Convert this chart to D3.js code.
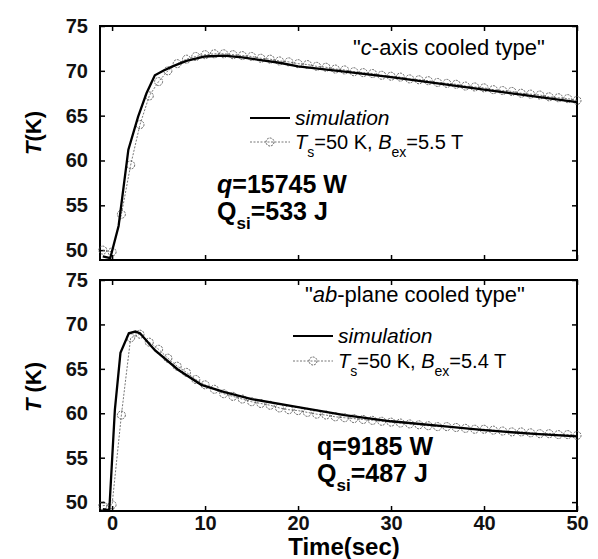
<!DOCTYPE html>
<html>
<head>
<meta charset="utf-8">
<title>T(K) vs Time</title>
<script src="https://cdn.jsdelivr.net/npm/d3@7"></script>
<style>
  body { margin: 0; background: #fff; }
  svg { font-family: "Liberation Sans", Arial, sans-serif; }
  .axis text { font-size: 20px; font-weight: bold; fill: #111; }
  .axis path { stroke: none; }
  .axis line { stroke: #000; stroke-width: 1.5px; }
  .frame { fill: none; stroke: #000; stroke-width: 2px; }
  .sim { fill: none; stroke: #000; stroke-width: 2.3px; }
  .exp { fill: none; stroke: #666; stroke-width: 0.9px; }
  .dot { fill: none; stroke: #555; stroke-width: 0.9px; stroke-dasharray: 2,1; }
</style>
</head>
<body>
<div id="chart"></div>
<script>
// tick labels
const xTicks = [0, 10, 20, 30, 40, 50];
const yTicks = [50, 55, 60, 65, 70, 75];

// measured points (circles), one per second
const expTime = [-1, 0, 1, 2, 3, 4, 5, 6, 7, 8, 9, 10, 11, 12, 13, 14, 15, 16, 17, 18, 19, 20,
  21, 22, 23, 24, 25, 26, 27, 28, 29, 30, 31, 32, 33, 34, 35, 36, 37, 38, 39, 40,
  41, 42, 43, 44, 45, 46, 47, 48, 49, 50];
const expTop = [50.0, 49.8, 54.0, 59.5, 64.0, 67.2, 68.8, 70.0, 70.8, 71.3, 71.6, 71.8, 71.9, 71.9,
  71.8, 71.7, 71.6, 71.4, 71.3, 71.1, 71.0, 70.8, 70.7, 70.5, 70.4, 70.2, 70.1, 69.9, 69.8, 69.7,
  69.5, 69.4, 69.3, 69.1, 69.0, 68.9, 68.7, 68.6, 68.5, 68.3, 68.2, 68.1, 67.9, 67.8, 67.7, 67.5,
  67.4, 67.3, 67.1, 67.0, 66.9, 66.7];
const expBottom = [49.6, 49.7, 59.8, 68.5, 68.9, 68.0, 67.2, 66.2, 65.3, 64.6, 63.8, 63.2, 62.7,
  62.2, 61.9, 61.6, 61.3, 61.1, 60.9, 60.6, 60.4, 60.3, 60.1, 59.9, 59.8, 59.6, 59.5, 59.4, 59.3,
  59.2, 59.1, 59.0, 58.9, 58.8, 58.7, 58.6, 58.5, 58.5, 58.4, 58.3, 58.2, 58.2, 58.1, 58.0, 57.9,
  57.9, 57.8, 57.7, 57.7, 57.6, 57.6, 57.5];

// simulation curves
const simTopTime = [-1.0, -0.2, 0.7, 1.75, 2.8, 3.7, 4.6, 5.5, 6.5, 8, 10, 12, 14, 16, 18, 20, 25, 30, 35, 40, 45, 50];
const simTop = [49.3, 49.1, 52.7, 61.2, 64.9, 67.5, 69.5, 70.0, 70.5, 71.1, 71.6, 71.7, 71.5, 71.2, 70.9, 70.5, 69.9, 69.3, 68.6, 67.9, 67.2, 66.5];
const simBottomTime = [-1.0, -0.3, 0.3, 0.9, 1.8, 2.5, 3, 4.6, 7.1, 9.6, 12, 15, 20, 25, 30, 35, 40, 45, 50];
const simBottom = [49.2, 49.1, 60.4, 66.8, 69.0, 69.2, 69.0, 67.1, 64.9, 63.2, 62.4, 61.6, 60.7, 59.8, 59.1, 58.6, 58.1, 57.7, 57.4];

const width = 598, height = 559;
const svg = d3.select("#chart").append("svg")
  .attr("width", width).attr("height", height);

const x = d3.scaleLinear().domain([-1.3, 50]).range([100, 577]);

const panels = [
  { y: d3.scaleLinear().domain([48.9, 75]).range([260, 26]), exp: expTop,
    simT: simTopTime, simV: simTop, labels: false },
  { y: d3.scaleLinear().domain([49.0, 75]).range([511, 280]), exp: expBottom,
    simT: simBottomTime, simV: simBottom, labels: true }
];

panels.forEach(p => {
  const g = svg.append("g");
  const [y0, y1] = p.y.range();

  // axes with inward ticks on all four sides
  g.append("g").attr("class", "axis")
    .attr("transform", `translate(0,${y0})`)
    .call(d3.axisBottom(x).tickValues(xTicks).tickSize(-5).tickPadding(5)
      .tickFormat(p.labels ? d3.format("d") : ""));
  g.append("g").attr("class", "axis")
    .attr("transform", `translate(0,${y1})`)
    .call(d3.axisTop(x).tickValues(xTicks).tickSize(-5).tickFormat(""));
  g.append("g").attr("class", "axis")
    .attr("transform", `translate(100,0)`)
    .call(d3.axisLeft(p.y).tickValues(yTicks).tickSize(-5).tickPadding(12));
  g.append("g").attr("class", "axis")
    .attr("transform", `translate(577,0)`)
    .call(d3.axisRight(p.y).tickValues(yTicks).tickSize(-5).tickFormat(""));

  g.append("rect").attr("class", "frame")
    .attr("x", 100).attr("y", y1).attr("width", 477).attr("height", y0 - y1);

  // experiment
  const pts = expTime.map((t, i) => [t, p.exp[i]]);
  g.append("path").attr("class", "exp").attr("stroke-dasharray", "2,1.5")
    .attr("d", d3.line().x(d => x(d[0])).y(d => p.y(d[1]))(pts));
  g.selectAll(".dot").data(pts).enter().append("circle")
    .attr("class", "dot").attr("r", 4)
    .attr("cx", d => x(d[0])).attr("cy", d => p.y(d[1]));

  // simulation
  const sim = p.simT.map((t, i) => [t, p.simV[i]]);
  g.append("path").attr("class", "sim")
    .attr("d", d3.line().x(d => x(d[0])).y(d => p.y(d[1]))(sim));
});

// y-axis titles
function yTitle(cy, spaced) {
  const t = svg.append("text")
    .attr("transform", `translate(41,${cy}) rotate(-90)`)
    .attr("text-anchor", "middle")
    .style("font-size", "22px").style("font-weight", "bold");
  t.append("tspan").style("font-style", "italic").text("T");
  t.append("tspan").text(spaced ? " (K)" : "(K)");
}
yTitle(133, false);
yTitle(387, true);

svg.append("text").attr("x", 344).attr("y", 555)
  .attr("text-anchor", "middle")
  .style("font-size", "24px").style("font-weight", "bold")
  .text("Time(sec)");

// panel annotations
function title(xp, yp, it, rest) {
  const t = svg.append("text").attr("x", xp).attr("y", yp).style("font-size", "22px");
  t.append("tspan").text("\"");
  t.append("tspan").style("font-style", "italic").text(it);
  t.append("tspan").text(rest);
}
title(353, 55, "c", "-axis cooled type\"");
title(305, 302, "ab", "-plane cooled type\"");

// legends
function legend(lx, ly, ly2, bex) {
  svg.append("line").attr("x1", lx).attr("x2", lx + 40).attr("y1", ly - 7).attr("y2", ly - 7)
    .attr("stroke", "#000").attr("stroke-width", 2.2);
  svg.append("text").attr("x", lx + 45).attr("y", ly)
    .style("font-size", "21px").style("font-style", "italic").text("simulation");
  svg.append("line").attr("x1", lx).attr("x2", lx + 40).attr("y1", ly2 - 7).attr("y2", ly2 - 7)
    .attr("stroke", "#666").attr("stroke-width", 0.9).attr("stroke-dasharray", "2,1.5");
  svg.append("circle").attr("cx", lx + 20).attr("cy", ly2 - 7).attr("r", 4)
    .attr("class", "dot");
  const t = svg.append("text").attr("x", lx + 45).attr("y", ly2).style("font-size", "20px");
  t.append("tspan").style("font-style", "italic").text("T");
  t.append("tspan").attr("dy", 8).style("font-size", "14px").text("s");
  t.append("tspan").attr("dy", -8).text("=50 K, ");
  t.append("tspan").style("font-style", "italic").text("B");
  t.append("tspan").attr("dy", 8).style("font-size", "14px").text("ex");
  t.append("tspan").attr("dy", -8).text("=" + bex + " T");
}
legend(250, 125, 149, "5.5");
legend(293, 343, 368, "5.4");

// heat annotations
function heat(hx, hy, qItalic, q, qs) {
  const t = svg.append("text").attr("x", hx).attr("y", hy)
    .style("font-size", "25px").style("font-weight", "bold");
  t.append("tspan").style("font-style", qItalic ? "italic" : "normal").text("q");
  t.append("tspan").text("=" + q + " W");
  const t2 = svg.append("text").attr("x", hx).attr("y", hy + 27)
    .style("font-size", "25px").style("font-weight", "bold");
  t2.append("tspan").text("Q");
  t2.append("tspan").attr("dy", 9).style("font-size", "17px").text("si");
  t2.append("tspan").attr("dy", -9).text("=" + qs + " J");
}
heat(217, 193, true, "15745", "533");
heat(317, 455, false, "9185", "487");
</script>
</body>
</html>
